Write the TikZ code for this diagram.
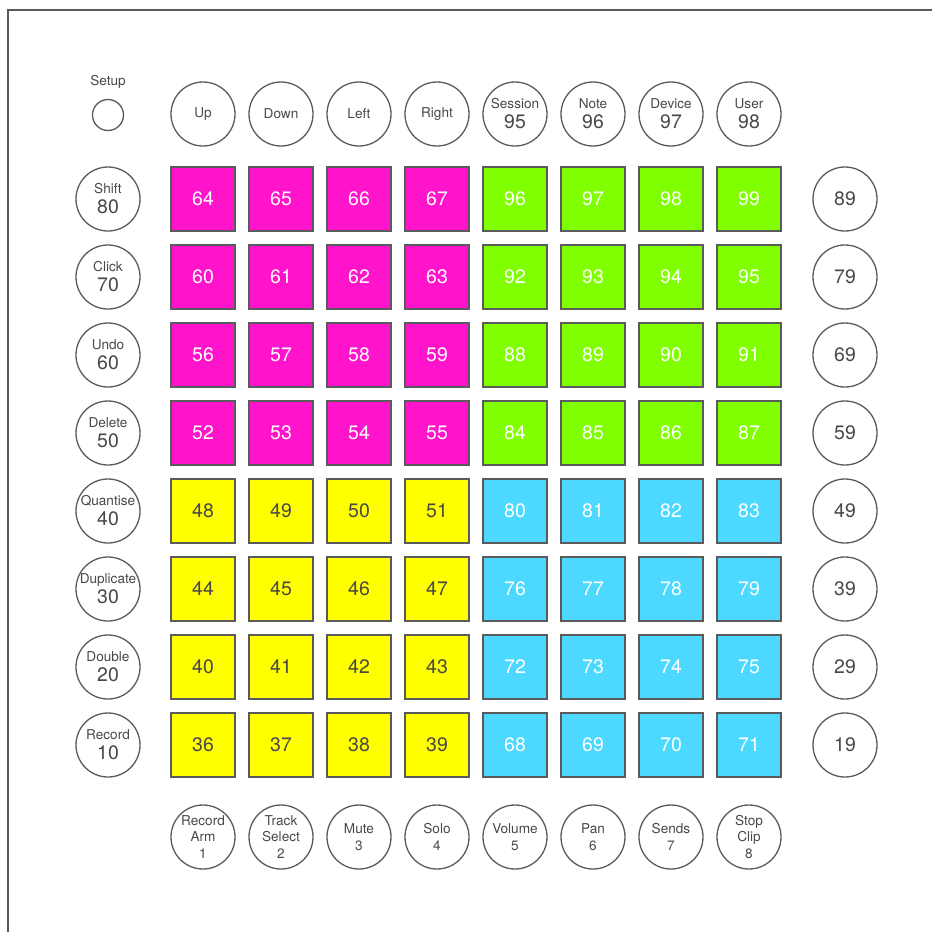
\documentclass[tikz,border=0pt]{standalone}
\usepackage{fontspec}
\setmainfont{TeX Gyre Heros}
\usepackage{xcolor}
\usepackage{tikz}
\usetikzlibrary{positioning}
\definecolor{padmagenta}{HTML}{FF14CC}
\definecolor{padgreen}{HTML}{80FF00}
\definecolor{padyellow}{HTML}{FFFF00}
\definecolor{padblue}{HTML}{4DD8FF}
\definecolor{rimgray}{HTML}{5A5A5A}
\definecolor{labelgray}{HTML}{484848}
\newcommand{\btnname}{\fontsize{13.6}{16.5}\selectfont}
\newcommand{\btnnum}{\fontsize{19.5}{20}\selectfont}
\tikzset{
  frameline/.style={rimgray, line width=1.5pt},
  pad/.style={draw=rimgray, line width=1.5pt, minimum size=64pt, inner sep=0pt, font=\btnnum},
  button/.style={circle, draw=rimgray, line width=1.3pt, minimum size=64pt, inner sep=0pt, align=center, text=labelgray},
  smallbutton/.style={circle, draw=rimgray, line width=1.3pt, minimum size=31pt, inner sep=0pt},
  caption/.style={inner sep=0pt, text=labelgray, font=\btnname}
}
\begin{document}
\begin{tikzpicture}[x=1pt, y=-1pt]
  \useasboundingbox (0,0) rectangle (932,932);
  \draw[frameline] (8,932) -- (8,10) -- (932,10);
  % setup
  \node[smallbutton] (setup) at (108,115) {};
  \node[caption, above=10pt of setup] (setuptext) {Setup};
  % top row
  \foreach \lbl [count=\c from 0] in {Up,Down,Left,Right}{
    \node[button, font=\btnname] (top-\c) at (203+78*\c,114) {\lbl};
  }
  \foreach \lbl/\num [count=\c from 4] in {Session/95,Note/96,Device/97,User/98}{
    \node[button, font=\btnnum] (top-\c) at (203+78*\c,114) {\btnname\lbl\\\num};
  }
  % left and right columns
  \foreach \lbl/\num [count=\r from 0] in {Shift/80,Click/70,Undo/60,Delete/50,Quantise/40,Duplicate/30,Double/20,Record/10}{
    \node[button, font=\btnnum] (left-\r) at (108,199+78*\r) {\btnname\lbl\\\num};
  }
  \foreach \num [count=\r from 0] in {89,79,69,59,49,39,29,19}{
    \node[button, font=\btnnum] (right-\r) at (845,199+78*\r) {\num};
  }
  % bottom row
  \foreach \lbl [count=\c from 0] in {{Record\\Arm\\1},{Track\\Select\\2},{Mute\\3},{Solo\\4},{Volume\\5},{Pan\\6},{Sends\\7},{Stop\\Clip\\8}}{
    \node[button, font=\btnname] (bottom-\c) at (203+78*\c,837) {\lbl};
  }
  % pads
  \foreach \r in {0,...,7}{
    \foreach \c in {0,...,7}{
      \pgfmathtruncatemacro{\val}{(\c<4 ? 64 : 92) - 4*\r + \c}
      \pgfmathtruncatemacro{\qd}{(\r>3)*2 + (\c>3)}
      \pgfmathsetmacro{\padcol}{{"padmagenta","padgreen","padyellow","padblue"}[\qd]}
      \pgfmathsetmacro{\txtcol}{{"white","white","labelgray","white"}[\qd]}
      \node[pad, fill=\padcol, text=\txtcol] (pad-\val) at (203+78*\c,199+78*\r) {\val};
    }
  }
\end{tikzpicture}
\end{document}
